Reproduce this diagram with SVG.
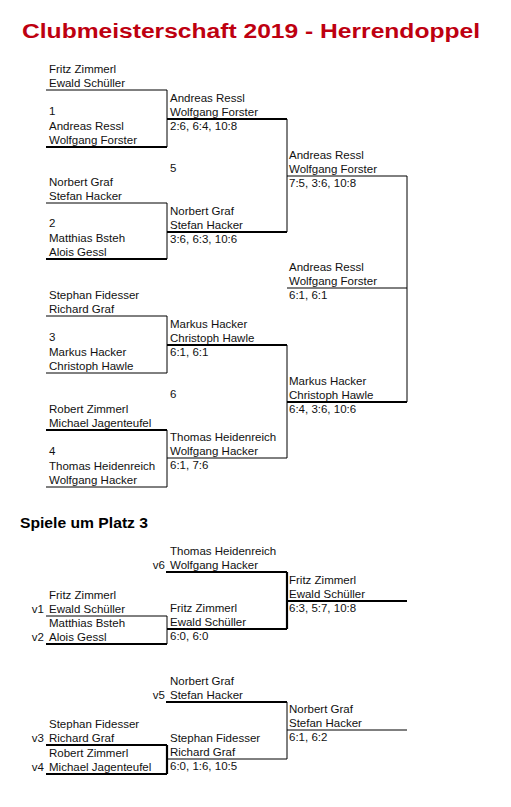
<svg xmlns="http://www.w3.org/2000/svg" width="511" height="807" viewBox="0 0 511 807">
<style>
text{font-family:"Liberation Sans",Arial,sans-serif;font-size:11.5px;fill:#111}
.title{font-size:20px;font-weight:bold;fill:#BE0010}
.sub{font-size:14px;font-weight:bold;fill:#000}
.e{text-anchor:end}
line{stroke:#000;stroke-width:1}
.k{stroke-width:2.2}
</style>
<rect width="511" height="807" fill="#fff"/>
<text class="title" x="22" y="38" textLength="458" lengthAdjust="spacingAndGlyphs">Clubmeisterschaft 2019 - Herrendoppel</text>
<text class="sub" x="20" y="527.5" textLength="128" lengthAdjust="spacingAndGlyphs">Spiele um Platz 3</text>

<g id="connectors">
  <line x1="46" y1="90" x2="167" y2="90"/>
  <line class="k" x1="46" y1="147" x2="167" y2="147"/>
  <line x1="167" y1="90" x2="167" y2="147"/>
  <line x1="46" y1="203" x2="167" y2="203"/>
  <line class="k" x1="46" y1="259" x2="167" y2="259"/>
  <line x1="167" y1="203" x2="167" y2="259"/>
  <line x1="46" y1="316" x2="167" y2="316"/>
  <line x1="46" y1="373" x2="167" y2="373"/>
  <line x1="167" y1="316" x2="167" y2="373"/>
  <line class="k" x1="46" y1="430" x2="167" y2="430"/>
  <line x1="46" y1="487" x2="167" y2="487"/>
  <line x1="167" y1="430" x2="167" y2="487"/>
  <line class="k" x1="167" y1="119" x2="287" y2="119"/>
  <line class="k" x1="167" y1="232" x2="287" y2="232"/>
  <line x1="287" y1="119" x2="287" y2="232"/>
  <line class="k" x1="167" y1="345" x2="287" y2="345"/>
  <line x1="167" y1="458" x2="287" y2="458"/>
  <line x1="287" y1="345" x2="287" y2="458"/>
  <line x1="287" y1="176" x2="407" y2="176"/>
  <line class="k" x1="287" y1="402" x2="407" y2="402"/>
  <line x1="407" y1="176" x2="407" y2="402"/>
  <line x1="287" y1="288" x2="407" y2="288"/>
  <line x1="46" y1="616" x2="167" y2="616"/>
  <line class="k" x1="46" y1="644" x2="167" y2="644"/>
  <line x1="167" y1="616" x2="167" y2="644"/>
  <line class="k" x1="166" y1="572" x2="287" y2="572"/>
  <line class="k" x1="167" y1="629" x2="287" y2="629"/>
  <line class="k" x1="287" y1="572" x2="287" y2="629"/>
  <line class="k" x1="287" y1="601" x2="407" y2="601"/>
  <line class="k" x1="46" y1="745" x2="167" y2="745"/>
  <line class="k" x1="46" y1="774" x2="167" y2="774"/>
  <line class="k" x1="167" y1="745" x2="167" y2="774"/>
  <line class="k" x1="166" y1="702" x2="287" y2="702"/>
  <line x1="167" y1="759" x2="287" y2="759"/>
  <line x1="287" y1="702" x2="287" y2="759"/>
  <line x1="287" y1="730" x2="407" y2="730"/>
</g>

<g id="r1m1">
  <text x="49" y="73">Fritz Zimmerl</text>
  <text x="49" y="87">Ewald Schüller</text>
  <text x="49" y="115">1</text>
  <text x="49" y="129.5">Andreas Ressl</text>
  <text x="49" y="143.5">Wolfgang Forster</text>
</g>
<g id="r1m2">
  <text x="49" y="186">Norbert Graf</text>
  <text x="49" y="200">Stefan Hacker</text>
  <text x="49" y="227">2</text>
  <text x="49" y="241.5">Matthias Bsteh</text>
  <text x="49" y="255.5">Alois Gessl</text>
</g>
<g id="r1m3">
  <text x="49" y="299">Stephan Fidesser</text>
  <text x="49" y="313">Richard Graf</text>
  <text x="49" y="341">3</text>
  <text x="49" y="355.5">Markus Hacker</text>
  <text x="49" y="369.5">Christoph Hawle</text>
</g>
<g id="r1m4">
  <text x="49" y="413">Robert Zimmerl</text>
  <text x="49" y="427">Michael Jagenteufel</text>
  <text x="49" y="455">4</text>
  <text x="49" y="469.5">Thomas Heidenreich</text>
  <text x="49" y="483.5">Wolfgang Hacker</text>
</g>
<g id="r2m1">
  <text x="170" y="102">Andreas Ressl</text>
  <text x="170" y="116">Wolfgang Forster</text>
  <text x="170" y="130">2:6, 6:4, 10:8</text>
</g>
<g id="label5"><text x="170" y="171.5">5</text></g>
<g id="r2m2">
  <text x="170" y="215">Norbert Graf</text>
  <text x="170" y="229">Stefan Hacker</text>
  <text x="170" y="243">3:6, 6:3, 10:6</text>
</g>
<g id="r2m3">
  <text x="170" y="328">Markus Hacker</text>
  <text x="170" y="342">Christoph Hawle</text>
  <text x="170" y="356">6:1, 6:1</text>
</g>
<g id="label6"><text x="170" y="398">6</text></g>
<g id="r2m4">
  <text x="170" y="441">Thomas Heidenreich</text>
  <text x="170" y="455">Wolfgang Hacker</text>
  <text x="170" y="469">6:1, 7:6</text>
</g>
<g id="r3m1">
  <text x="289" y="159">Andreas Ressl</text>
  <text x="289" y="173">Wolfgang Forster</text>
  <text x="289" y="187">7:5, 3:6, 10:8</text>
</g>
<g id="final">
  <text x="289" y="271">Andreas Ressl</text>
  <text x="289" y="285">Wolfgang Forster</text>
  <text x="289" y="299">6:1, 6:1</text>
</g>
<g id="r3m2">
  <text x="289" y="385">Markus Hacker</text>
  <text x="289" y="399">Christoph Hawle</text>
  <text x="289" y="413">6:4, 3:6, 10:6</text>
</g>

<g id="p3a-v6">
  <text x="170" y="555">Thomas Heidenreich</text>
  <text class="e" x="165" y="569">v6</text>
  <text x="170" y="569">Wolfgang Hacker</text>
</g>
<g id="p3a-v1v2">
  <text x="49" y="598.5">Fritz Zimmerl</text>
  <text class="e" x="44" y="612.5">v1</text>
  <text x="49" y="612.5">Ewald Schüller</text>
  <text x="49" y="627">Matthias Bsteh</text>
  <text class="e" x="44" y="641">v2</text>
  <text x="49" y="641">Alois Gessl</text>
</g>
<g id="p3a-semi">
  <text x="170" y="612">Fritz Zimmerl</text>
  <text x="170" y="626">Ewald Schüller</text>
  <text x="170" y="640">6:0, 6:0</text>
</g>
<g id="p3a-final">
  <text x="289" y="584">Fritz Zimmerl</text>
  <text x="289" y="598">Ewald Schüller</text>
  <text x="289" y="612">6:3, 5:7, 10:8</text>
</g>

<g id="p3b-v5">
  <text x="170" y="685">Norbert Graf</text>
  <text class="e" x="165" y="699">v5</text>
  <text x="170" y="699">Stefan Hacker</text>
</g>
<g id="p3b-v3v4">
  <text x="49" y="727.5">Stephan Fidesser</text>
  <text class="e" x="44" y="741.5">v3</text>
  <text x="49" y="741.5">Richard Graf</text>
  <text x="49" y="756.5">Robert Zimmerl</text>
  <text class="e" x="44" y="770.5">v4</text>
  <text x="49" y="770.5">Michael Jagenteufel</text>
</g>
<g id="p3b-semi">
  <text x="170" y="741.5">Stephan Fidesser</text>
  <text x="170" y="755.5">Richard Graf</text>
  <text x="170" y="770">6:0, 1:6, 10:5</text>
</g>
<g id="p3b-final">
  <text x="289" y="713">Norbert Graf</text>
  <text x="289" y="727">Stefan Hacker</text>
  <text x="289" y="741">6:1, 6:2</text>
</g>
</svg>
